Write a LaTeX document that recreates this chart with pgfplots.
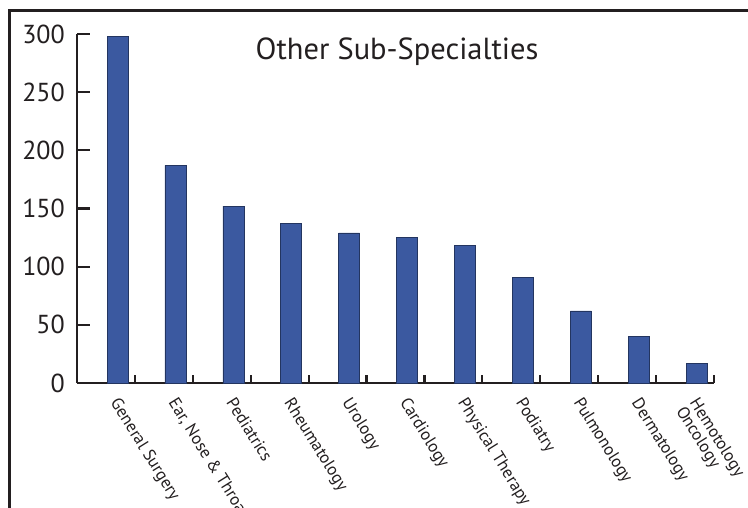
\documentclass[border=0pt]{standalone}
\usepackage{fontspec}
\setmainfont{PT Sans}
\usepackage{pgfplots}
\pgfplotsset{compat=1.18}
\definecolor{barblue}{RGB}{59,89,160}
\definecolor{axisink}{RGB}{35,31,32}

\begin{document}
\begin{tikzpicture}

\useasboundingbox (0pt,0pt) rectangle (748pt,-508pt);

% outer frame (left and top only)
\draw[axisink, line width=3pt] (9.5pt,-512pt) -- (9.5pt,-11pt) -- (752pt,-11pt);

\begin{axis}[
  at = {(77pt,-383pt)},
  anchor = south west,
  scale only axis,
  width = 637pt,
  height = 349pt,
  xmin = 0, xmax = 11,
  ymin = 0, ymax = 300,
  axis lines = left,
  axis line style = {axisink, line width=2.5pt, -},
  tick align = inside,
  major tick length = 13pt,
  major tick style = {draw=axisink, line width=2.2pt},
  ytick = {0,50,...,300},
  yticklabel style = {font=\fontsize{26}{30}\selectfont, text=axisink, inner sep=0pt, xshift=-12pt},
  /pgf/number format/assume math mode = true,
  xtick = {1,...,11},
  xticklabels = {},
  xtick style = {/pgfplots/major tick length=8pt},
  extra x ticks = {0.75,1.75,...,10.75},
  extra x tick labels = {General Surgery, {Ear, Nose \& Throat}, Pediatrics, Rheumatology,
    Urology, Cardiology, Physical Therapy, Podiatry, Pulmonology, Dermatology,
    {Hemotology\\Oncology}},
  extra x tick style = {
    major tick length=0pt,
    xticklabel style = {yshift=-13pt, rotate=-58, anchor=north west, inner sep=0pt, align=left,
      font=\fontsize{17}{16}\selectfont, text=axisink},
  },
  clip = false,
]

\addplot[ybar, bar width=21pt, fill=barblue, draw=barblue!60!black, line width=0.6pt]
  coordinates {
  (0.7,298)
  (1.7,187)
  (2.7,152)
  (3.7,137)
  (4.7,129)
  (5.7,125)
  (6.7,118)
  (7.7,91)
  (8.7,62)
  (9.7,40)
  (10.7,17)
};

% y tick marks, pointing into the plot
\draw[axisink, line width=2.2pt] (axis cs:0,50) -- ++(13pt,0pt);
\draw[axisink, line width=2.2pt] (axis cs:0,100) -- ++(13pt,0pt);
\draw[axisink, line width=2.2pt] (axis cs:0,150) -- ++(13pt,0pt);
\draw[axisink, line width=2.2pt] (axis cs:0,200) -- ++(13pt,0pt);
\draw[axisink, line width=2.2pt] (axis cs:0,250) -- ++(13pt,0pt);
\draw[axisink, line width=2.2pt] (axis cs:0,300) -- ++(13pt,0pt);

\end{axis}

\node[font=\fontsize{30.5}{32}\selectfont, text=axisink, anchor=base] at (397pt,-60pt) {Other Sub-Specialties};

\end{tikzpicture}
\end{document}
